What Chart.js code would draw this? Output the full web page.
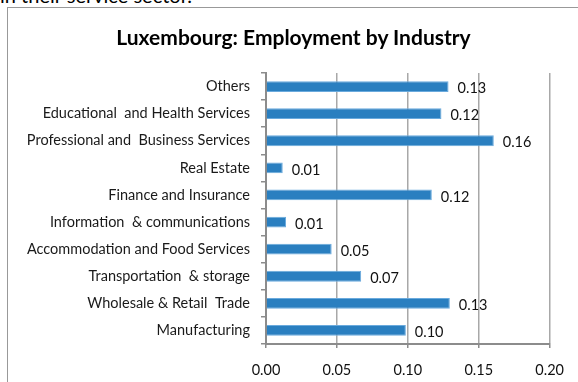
<!DOCTYPE html>
<html>
<head>
    <title>Luxembourg: Employment by Industry</title>
    <script src="https://cdn.jsdelivr.net/npm/chart.js@4"></script>
    <style>
        body { margin: 0; background: #fff; overflow: hidden; }
        .lead { position: absolute; left: 0; top: -15px; font: 20px Lato, sans-serif; line-height: 20px; color: #000; white-space: nowrap; }
        .frame { position: absolute; left: 7px; top: 7px; width: 600px; height: 400px; border-left: 1px solid #999; border-top: 1px solid #999; }
        .chart-title { position: absolute; left: 0; top: 26px; width: 587px; text-align: center; font: bold 21px Lato, sans-serif; line-height: 21px; color: #000; white-space: nowrap; }
        #chart { position: absolute; left: 0; top: 0; }
    </style>
</head>
<body>
    <div class="lead">in their service sector.</div>
    <div class="frame"></div>
    <canvas id="chart" width="578" height="382"></canvas>
    <div class="chart-title">Luxembourg: Employment by Industry</div>

    <script>
        const industries = [
            'Others',
            'Educational  and Health Services',
            'Professional and  Business Services',
            'Real Estate',
            'Finance and Insurance',
            'Information  & communications',
            'Accommodation and Food Services',
            'Transportation  & storage',
            'Wholesale & Retail  Trade',
            'Manufacturing'
        ];
        const shares = [0.1287, 0.1237, 0.1606, 0.0118, 0.1169, 0.0141, 0.0463, 0.0671, 0.1296, 0.0986];
        const xTicks = [0, 0.05, 0.10, 0.15, 0.20];

        const FONT = 'Lato';
        const GRID = '#a8a8a8';
        const AXIS = '#8c8c8c';

        // value labels just to the right of each bar
        const barValues = {
            id: 'barValues',
            afterDatasetsDraw(chart) {
                const ctx = chart.ctx;
                const meta = chart.getDatasetMeta(0);
                ctx.save();
                ctx.font = '14.5px ' + FONT;
                ctx.fillStyle = '#111';
                ctx.textAlign = 'left';
                ctx.textBaseline = 'middle';
                meta.data.forEach((bar, i) => {
                    ctx.fillText(shares[i].toFixed(2), bar.x + 9, bar.y + 2);
                });
                ctx.restore();
            }
        };

        new Chart(document.getElementById('chart'), {
            type: 'bar',
            data: {
                labels: industries,
                datasets: [{
                    data: shares,
                    backgroundColor: '#2a7fc0',
                    borderColor: '#6aaadd',
                    borderWidth: { top: 1, left: 0, right: 1, bottom: 1 },
                    borderSkipped: false,
                    barPercentage: 0.4,
                    categoryPercentage: 1
                }]
            },
            options: {
                indexAxis: 'y',
                responsive: false,
                animation: false,
                devicePixelRatio: 1,
                layout: { padding: { left: 9, right: 28, top: 73, bottom: 3 } },
                plugins: {
                    legend: { display: false },
                    tooltip: { enabled: false },
                    title: { display: false }
                },
                scales: {
                    x: {
                        min: 0,
                        max: 0.2,
                        afterBuildTicks(scale) {
                            scale.ticks = xTicks.map(v => ({ value: v }));
                        },
                        afterFit(scale) { scale.height = 35; },
                        ticks: {
                            color: '#111',
                            font: { family: FONT, size: 14.5 },
                            padding: 14,
                            callback: v => v.toFixed(2)
                        },
                        grid: { color: GRID, lineWidth: 1.5, tickLength: 4, tickColor: AXIS },
                        border: { color: AXIS, width: 2 }
                    },
                    y: {
                        afterFit(scale) { scale.width = 257; },
                        ticks: {
                            color: '#1a1a1a',
                            font: { family: FONT, size: 14.5 },
                            padding: 11
                        },
                        grid: { offset: true, drawOnChartArea: false, color: AXIS, lineWidth: 1.5, tickLength: 5 },
                        border: { color: AXIS, width: 2 }
                    }
                }
            },
            plugins: [barValues]
        });
    </script>
</body>
</html>
